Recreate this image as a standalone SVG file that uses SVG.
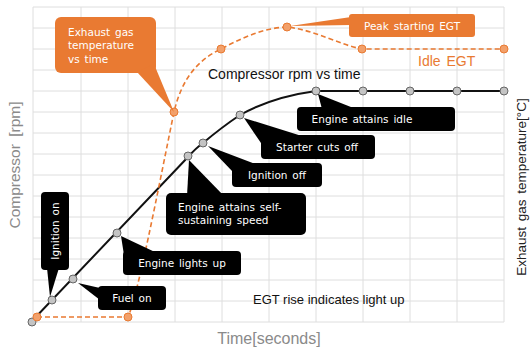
<svg xmlns="http://www.w3.org/2000/svg" width="530" height="347" viewBox="0 0 530 347">
<defs>
<style>
.grid{stroke:#dedede;stroke-width:1;fill:none}
.cb{fill:#000}
.co{fill:#E97A32}
.wt{fill:#fff;font-family:"DejaVu Sans",sans-serif;font-size:10.5px;word-spacing:1.5px}
.gc{fill:#c4c4c4;stroke:#666;stroke-width:1}
.oc{fill:#F2A06A;stroke:#E97A32;stroke-width:1}
.ax{font-family:"Liberation Sans",Arial,sans-serif;font-size:16px;fill:#8a8a8a}
.lbl{font-family:"Liberation Sans",Arial,sans-serif;font-size:13px;fill:#111}
</style>
</defs>
<rect width="530" height="347" fill="#fff"/>
<g id="grid">
<path class="grid" d="M33,7V322M81,7V322M128,7V322M175,7V322M222,7V322M269,7V322M316,7V322M363,7V322M410,7V322M457,7V322M504,7V322"/>
<path class="grid" d="M33,7H504M33,28H504M33,49H504M33,70H504M33,91H504M33,112H504M33,133H504M33,154H504M33,175H504M33,196H504M33,217H504M33,238H504M33,259H504M33,280H504M33,301H504M33,322H504"/>
</g>
<g id="connectors">
<path d="M32,321 L188,157 Q196,148 203,143 Q222,127 240,115 Q272,97 316,91 L504,91" fill="none" stroke="#111" stroke-width="2"/>
<path d="M37,317 L128,317 C138,295 158,190 174,112 C182,78 198,60 221,49 C240,39 262,28 287,27 C315,30 340,45 362,49 L504,49" fill="none" stroke="#E97A32" stroke-width="1.6" stroke-dasharray="5,3"/>
</g>
<g id="points">
<circle class="gc" cx="32" cy="322" r="4"/>
<circle class="oc" cx="37" cy="317" r="4"/>
<circle class="oc" cx="128" cy="317" r="4"/>
<circle class="oc" cx="174" cy="112" r="4"/>
<circle class="oc" cx="221" cy="49" r="4"/>
<circle class="oc" cx="287" cy="27" r="4"/>
<circle class="oc" cx="362" cy="49" r="4"/>
<circle class="oc" cx="504" cy="49" r="4"/>
<circle class="gc" cx="52" cy="300" r="4"/>
<circle class="gc" cx="73" cy="279" r="4"/>
<circle class="gc" cx="117" cy="233" r="4"/>
<circle class="gc" cx="188" cy="156" r="4"/>
<circle class="gc" cx="203" cy="143" r="4"/>
<circle class="gc" cx="240" cy="115" r="4"/>
<circle class="gc" cx="316" cy="91" r="4"/>
<circle class="gc" cx="363" cy="91" r="4"/>
<circle class="gc" cx="410" cy="91" r="4"/>
<circle class="gc" cx="457" cy="91" r="4"/>
<circle class="gc" cx="504" cy="91" r="4"/>
</g>
<g id="egt-callout">
<rect class="co" x="55" y="17" width="101" height="56" rx="6"/>
<polygon class="co" points="137,72 154,64 174,112"/>
<text class="wt" x="68" y="36">Exhaust gas</text>
<text class="wt" x="68" y="49.3">temperature</text>
<text class="wt" x="68" y="62.6">vs time</text>
</g>
<g id="peak-callout">
<rect class="co" x="349" y="14" width="126" height="23" rx="3"/>
<polygon class="co" points="351,17 351,25 290,26"/>
<text class="wt" x="412" y="29.5" text-anchor="middle">Peak starting EGT</text>
</g>
<g id="idle-egt">
<text x="418" y="66" font-family="Liberation Sans,Arial,sans-serif" font-size="14px" fill="#E97A32" word-spacing="2px">Idle EGT</text>
</g>
<g id="rpm-label">
<text class="lbl" x="208" y="79" style="font-size:14px">Compressor rpm vs time</text>
</g>
<g id="egt-rise">
<text class="lbl" x="253" y="304">EGT rise indicates light up</text>
</g>
<g id="ignition-on">
<rect class="cb" x="41" y="192" width="28" height="78" rx="4"/>
<polygon class="cb" points="47,268 59,268 50,297"/>
<text class="wt" transform="translate(58.5,231) rotate(-90)" text-anchor="middle">Ignition on</text>
</g>
<g id="fuel-on">
<rect class="cb" x="98" y="286" width="68" height="24" rx="4"/>
<polygon class="cb" points="78,283 100,288 100,300"/>
<text class="wt" x="132" y="302" text-anchor="middle">Fuel on</text>
</g>
<g id="lights-up">
<rect class="cb" x="123" y="251" width="118" height="24" rx="4"/>
<polygon class="cb" points="121,236 124,255 157,253"/>
<text class="wt" x="182" y="267" text-anchor="middle">Engine lights up</text>
</g>
<g id="self-sustaining">
<rect class="cb" x="166" y="193" width="140" height="42" rx="5"/>
<polygon class="cb" points="189,160 187,196 224,196"/>
<text class="wt" x="178" y="210.5">Engine attains self-</text>
<text class="wt" x="178" y="223.8">sustaining speed</text>
</g>
<g id="ignition-off">
<rect class="cb" x="232" y="163" width="90" height="24" rx="4"/>
<polygon class="cb" points="208,146 258,165 233,172"/>
<text class="wt" x="277" y="179" text-anchor="middle">Ignition off</text>
</g>
<g id="starter-cuts">
<rect class="cb" x="261" y="135" width="114" height="24" rx="4"/>
<polygon class="cb" points="244,118 305,137 263,146"/>
<text class="wt" x="317" y="151" text-anchor="middle">Starter cuts off</text>
</g>
<g id="attains-idle">
<rect class="cb" x="297" y="107" width="158" height="24" rx="4"/>
<polygon class="cb" points="318,94 322,109 356,109"/>
<text class="wt" x="362" y="123" text-anchor="middle">Engine attains idle</text>
</g>
<g id="axes">
<text class="ax" x="269" y="344" text-anchor="middle">Time[seconds]</text>
<text class="ax" transform="translate(20,165) rotate(-90)" text-anchor="middle" word-spacing="3px" style="font-size:15.5px">Compressor [rpm]</text>
<text transform="translate(526,187) rotate(-90)" text-anchor="middle" font-family="Liberation Sans,Arial,sans-serif" font-size="13.5px" fill="#222" word-spacing="2px">Exhaust gas temperature[°C]</text>
</g>
</svg>
